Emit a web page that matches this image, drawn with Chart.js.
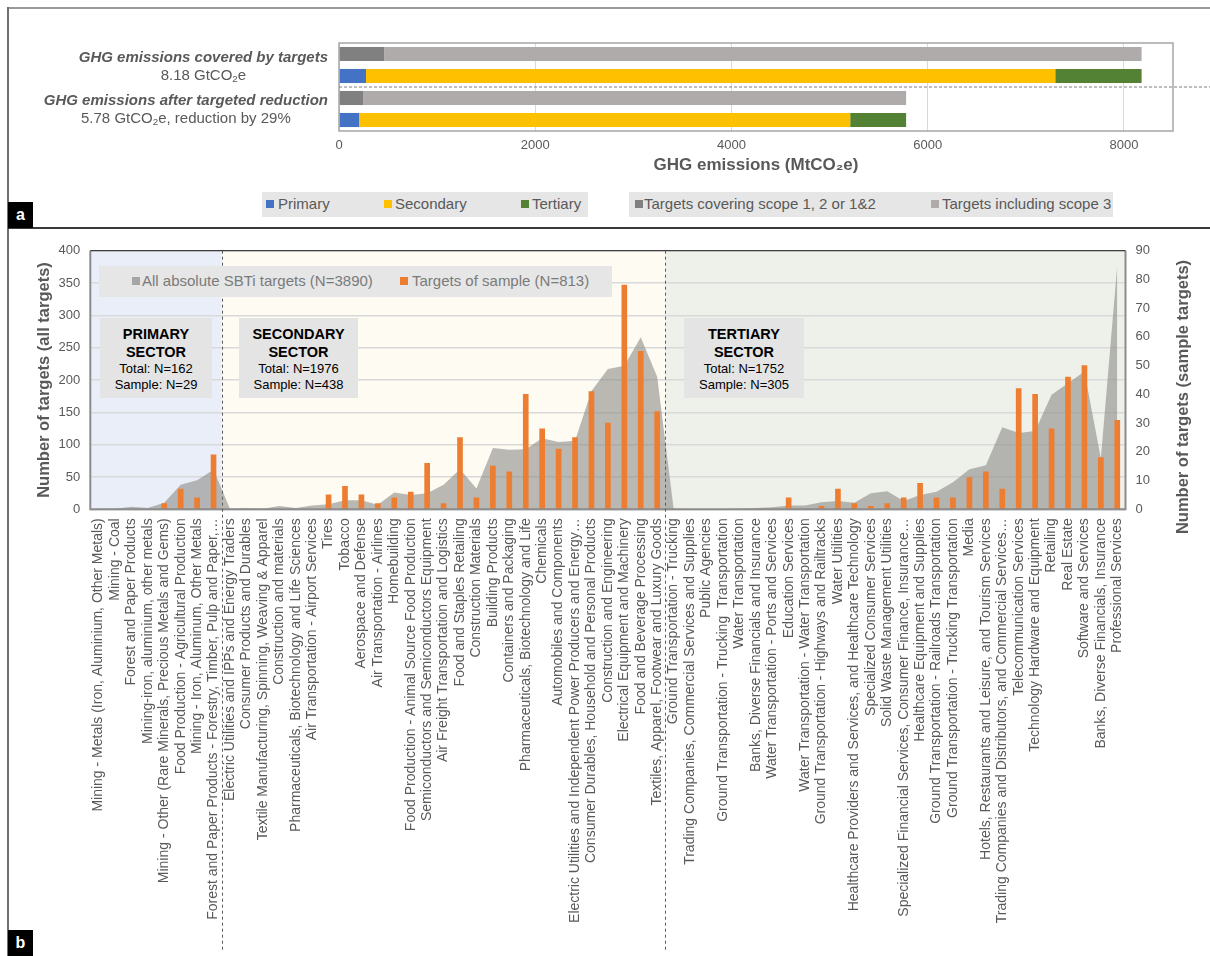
<!DOCTYPE html>
<html>
<head>
<meta charset="utf-8">
<title>SBTi targets</title>
<script src="https://cdn.jsdelivr.net/npm/chart.js@4.4.1/dist/chart.umd.min.js"></script>
<style>
  body { margin: 0; background: #fff; font-family: "Liberation Sans", Arial, sans-serif; }
  #page { position: relative; width: 1210px; height: 956px; overflow: hidden; }
  canvas { position: absolute; left: 0; }
  .line { position: absolute; }
  .tag { position: absolute; width: 25px; height: 26px; background: #000; color: #fff; font-weight: bold; font-size: 16px; text-align: center; line-height: 26px; }
  .rowlabel { position: absolute; right: 882px; color: #595959; font-size: 15px; line-height: 18px; text-align: center; white-space: nowrap; }
  .rowlabel b { font-style: italic; }
  .legend { position: absolute; background: #e6e6e6; color: #595959; font-size: 15px; }
  .legend span { position: absolute; white-space: nowrap; }
  .legend i { position: absolute; width: 8px; height: 8px; }
  .sector { position: absolute; top: 318px; height: 80px; background: #e4e4e4; color: #000; text-align: center; box-sizing: border-box; padding-top: 7px; white-space: nowrap; }
  .sector b { display: block; font-size: 14.5px; line-height: 18px; }
  .sector div { font-size: 13px; line-height: 16px; }
  sub { font-size: 0.65em; vertical-align: -0.25em; }
</style>
</head>
<body>
<div id="page">
  <canvas id="chartA" width="1210" height="229" style="top:0"></canvas>
  <canvas id="chartB" width="1210" height="726" style="top:230px"></canvas>

  <!-- figure frame -->
  <div class="line" style="left:8px;top:7px;width:1202px;height:1.5px;background:#9a9a9a"></div>
  <div class="line" style="left:7px;top:7px;width:2px;height:949px;background:#6f6f6f"></div>
  <div class="line" style="left:8px;top:227px;width:1202px;height:2px;background:#3a3a3a"></div>
  <div class="tag" style="left:8px;top:202px">a</div>
  <div class="tag" style="left:8px;top:930px">b</div>

  <!-- panel a row labels -->
  <div class="rowlabel" style="top:48px"><b>GHG emissions covered by targets</b><br>8.18 GtCO<sub>2</sub>e</div>
  <div class="rowlabel" style="top:91px"><b>GHG emissions after targeted reduction</b><br>5.78 GtCO<sub>2</sub>e, reduction by 29%</div>

  <!-- panel a legends -->
  <div class="legend" style="left:262px;top:192px;width:326px;height:25px">
    <i style="left:4px;top:8px;background:#4472c4"></i><span style="left:16px;top:3px">Primary</span>
    <i style="left:122px;top:8px;background:#ffc000"></i><span style="left:133px;top:3px">Secondary</span>
    <i style="left:259px;top:8px;background:#548235"></i><span style="left:270px;top:3px">Tertiary</span>
  </div>
  <div class="legend" style="left:629px;top:192px;width:484px;height:25px">
    <i style="left:6px;top:8px;background:#808080"></i><span style="left:15px;top:3px">Targets covering scope 1, 2 or 1&amp;2</span>
    <i style="left:302px;top:8px;background:#afabab"></i><span style="left:313px;top:3px">Targets including scope 3</span>
  </div>

  <!-- panel b legend -->
  <div class="legend" style="left:99px;top:266px;width:513px;height:31px;color:#7a7a7a">
    <i style="left:33px;top:11px;background:#a5a5a5"></i><span style="left:43px;top:6px">All absolute SBTi targets (N=3890)</span>
    <i style="left:301px;top:11px;background:#ed7d31"></i><span style="left:313px;top:6px">Targets of sample (N=813)</span>
  </div>

  <!-- sector boxes -->
  <div class="sector" style="left:100px;width:112px"><b>PRIMARY</b><b>SECTOR</b><div>Total: N=162</div><div>Sample: N=29</div></div>
  <div class="sector" style="left:239px;width:119px"><b>SECONDARY</b><b>SECTOR</b><div>Total: N=1976</div><div>Sample: N=438</div></div>
  <div class="sector" style="left:684px;width:120px"><b>TERTIARY</b><b>SECTOR</b><div>Total: N=1752</div><div>Sample: N=305</div></div>
</div>

<script>
// ---------- panel a: emissions covered (MtCO2e) ----------
const rowLabels = ["Covered (scope)", "Covered (sector)", "After reduction (scope)", "After reduction (sector)"];
const sectorNames = ["Primary", "Secondary", "Tertiary"];
const sectorCovered = [275, 7025, 880];
const sectorAfter = [205, 5005, 570];
const scopeNames = ["Targets covering scope 1, 2 or 1&2", "Targets including scope 3"];
const scopeCovered = [460, 7720];
const scopeAfter = [245, 5535];
const emissionTicks = [0, 2000, 4000, 6000, 8000];

// ---------- panel b: targets per industry ----------
const categories = [
  "Mining - Metals (Iron, Aluminium, Other Metals)",
  "Mining - Coal",
  "Forest and Paper Products",
  "Mining-iron, aluminium, other metals",
  "Mining - Other (Rare Minerals, Precious Metals and Gems)",
  "Food Production - Agricultural Production",
  "Mining - Iron, Aluminum, Other Metals",
  "Forest and Paper Products - Forestry, Timber, Pulp and Paper,…",
  "Electric Utilities and IPPs and Energy Traders",
  "Consumer Products and Durables",
  "Textile Manufacturing, Spinning, Weaving & Apparel",
  "Construction and materials",
  "Pharmaceuticals, Biotechnology and Life Sciences",
  "Air Transportation - Airport Services",
  "Tires",
  "Tobacco",
  "Aerospace and Defense",
  "Air Transportation - Airlines",
  "Homebuilding",
  "Food Production - Animal Source Food Production",
  "Semiconductors and Semiconductors Equipment",
  "Air Freight Transportation and Logistics",
  "Food and Staples Retailing",
  "Construction Materials",
  "Building Products",
  "Containers and Packaging",
  "Pharmaceuticals, Biotechnology and Life",
  "Chemicals",
  "Automobiles and Components",
  "Electric Utilities and Independent Power Producers and Energy…",
  "Consumer Durables, Household and Personal Products",
  "Construction and Engineering",
  "Electrical Equipment and Machinery",
  "Food and Beverage Processing",
  "Textiles, Apparel, Footwear and Luxury Goods",
  "Ground Transportation - Trucking",
  "Trading Companies, Commercial Services and Supplies",
  "Public Agencies",
  "Ground Transportation - Trucking  Transportation",
  "Water Transportation",
  "Banks, Diverse Financials and Insurance",
  "Water Transportation - Ports and Services",
  "Education Services",
  "Water Transportation - Water Transportation",
  "Ground Transportation - Highways and Railtracks",
  "Water Utilities",
  "Healthcare Providers and Services, and Healthcare Technology",
  "Specialized Consumer Services",
  "Solid Waste Management Utilities",
  "Specialized Financial Services, Consumer Finance, Insurance…",
  "Healthcare Equipment and Supplies",
  "Ground Transportation - Railroads Transportation",
  "Ground Transportation - Trucking Transportation",
  "Media",
  "Hotels, Restaurants and Leisure, and Tourism Services",
  "Trading Companies and Distributors, and Commercial Services…",
  "Telecommunication Services",
  "Technology Hardware and Equipment",
  "Retailing",
  "Real Estate",
  "Software and Services",
  "Banks, Diverse Financials, Insurance",
  "Professional Services"
];
const allTargets = [
  1, 1, 4, 2, 10, 38, 45, 61,
  1, 2, 1, 5, 2, 6, 8, 14, 14, 7, 26, 22, 25, 38, 62, 32, 95, 92, 93, 110, 104, 106, 183, 217, 222, 266, 205,
  1, 0, 0, 0, 1, 2, 3, 6, 6, 11, 13, 10, 25, 28, 13, 22, 27, 42, 62, 68, 127, 118, 121, 177, 195, 213, 79, 378
];
const sampleTargets = [
  0, 0, 0, 0, 2, 7, 4, 19,
  0, 0, 0, 0, 0, 0, 5, 8, 5, 2, 4, 6, 16, 2, 25, 4, 15, 13, 40, 28, 21, 25, 41, 30, 78, 55, 34,
  0, 0, 0, 0, 0, 0, 0, 4, 0, 1, 7, 2, 1, 2, 4, 9, 4, 4, 11, 13, 7, 42, 40, 28, 46, 50, 18, 31
];
// number of categories in primary, secondary, tertiary (in order)
const sectorSizes = [8, 27, 28];

Chart.defaults.font.family = '"Liberation Sans", Arial, sans-serif';
Chart.defaults.color = "#595959";

const sectorColors = ["#4472c4", "#ffc000", "#548235"];
const scopeColors = ["#808080", "#afabab"];

const frameA = {
  id: "frameA",
  afterDraw(chart) {
    const { ctx, chartArea: a, scales: { y } } = chart;
    ctx.save();
    ctx.strokeStyle = "#a6a6a6";
    ctx.lineWidth = 1.5;
    ctx.strokeRect(a.left, a.top, a.right - a.left, a.bottom - a.top);
    // dashed split between the two pairs of bars
    const yy = y.getPixelForValue(1.5);
    ctx.strokeStyle = "#7f7f7f";
    ctx.lineWidth = 1;
    ctx.setLineDash([3, 2]);
    ctx.beginPath();
    ctx.moveTo(a.left, yy);
    ctx.lineTo(chart.width, yy);
    ctx.stroke();
    ctx.restore();
  }
};

new Chart(document.getElementById("chartA"), {
  type: "bar",
  data: {
    labels: rowLabels,
    datasets: [
      ...scopeNames.map((name, i) => ({
        label: name,
        data: [scopeCovered[i], null, scopeAfter[i], null],
        backgroundColor: scopeColors[i]
      })),
      ...sectorNames.map((name, i) => ({
        label: name,
        data: [null, sectorCovered[i], null, sectorAfter[i]],
        backgroundColor: sectorColors[i]
      }))
    ]
  },
  options: {
    responsive: false,
    animation: false,
    indexAxis: "y",
    layout: { padding: { left: 339, right: 37, top: 43, bottom: 53 } },
    datasets: { bar: { barPercentage: 0.64, categoryPercentage: 1 } },
    plugins: { legend: { display: false }, tooltip: { enabled: false } },
    scales: {
      x: {
        stacked: true,
        min: 0,
        max: 8500,
        afterBuildTicks: (axis) => {
          axis.ticks = emissionTicks.map((v) => ({ value: v }));
        },
        afterFit: (scale) => {
          scale.height = 45;
        },
        grid: { color: "#d9d9d9", drawTicks: false },
        border: { display: false },
        ticks: {
          color: "#595959",
          font: { size: 13 },
          padding: 7,
          callback: (value) => String(value)
        },
        title: {
          display: true,
          text: "GHG emissions (MtCO₂e)",
          color: "#595959",
          font: { size: 17, weight: "bold" },
          padding: 0
        }
      },
      y: { stacked: true, display: false }
    }
  },
  plugins: [frameA]
});

const sectorFills = ["#e9eef8", "#fefbf3", "#eef0ea"];

const sectorPlugin = {
  id: "sectors",
  beforeDraw(chart) {
    const { ctx, chartArea: a, scales: { x } } = chart;
    let start = a.left;
    let count = 0;
    sectorSizes.forEach((size, i) => {
      count += size;
      const stop = i === sectorSizes.length - 1 ? a.right : x.getPixelForValue(count - 0.5);
      ctx.fillStyle = sectorFills[i];
      ctx.fillRect(start, a.top, stop - start, a.bottom - a.top);
      start = stop;
    });
  },
  afterDraw(chart) {
    const { ctx, chartArea: a, scales: { x } } = chart;
    ctx.save();
    // plot frame
    ctx.strokeStyle = "#8c8c8c";
    ctx.lineWidth = 2;
    ctx.beginPath();
    ctx.moveTo(a.left, a.top);
    ctx.lineTo(a.left, a.bottom);
    ctx.lineTo(a.right, a.bottom);
    ctx.lineTo(a.right, a.top);
    ctx.stroke();
    ctx.strokeStyle = "#404040";
    ctx.lineWidth = 1.2;
    ctx.beginPath();
    ctx.moveTo(a.left, a.top);
    ctx.lineTo(a.right, a.top);
    ctx.stroke();

    // dashed sector splits, running down through the labels
    ctx.strokeStyle = "#595959";
    ctx.lineWidth = 1;
    ctx.setLineDash([3, 3]);
    let count = 0;
    sectorSizes.slice(0, -1).forEach((size) => {
      count += size;
      const px = Math.round(x.getPixelForValue(count - 0.5)) + 0.5;
      ctx.beginPath();
      ctx.moveTo(px, a.top);
      ctx.lineTo(px, 720);
      ctx.stroke();
    });
    ctx.setLineDash([]);

    // right axis title, reading bottom to top
    ctx.translate(1183, 167);
    ctx.rotate(-Math.PI / 2);
    ctx.fillStyle = "#595959";
    ctx.font = 'bold 16.5px "Liberation Sans", Arial, sans-serif';
    ctx.textAlign = "center";
    ctx.textBaseline = "middle";
    ctx.fillText("Number of targets (sample targets)", 0, 0);
    ctx.restore();
  }
};

new Chart(document.getElementById("chartB"), {
  type: "bar",
  data: {
    labels: categories,
    datasets: [
      {
        type: "line",
        label: "All absolute SBTi targets (N=3890)",
        data: allTargets,
        yAxisID: "y",
        fill: "origin",
        backgroundColor: "rgba(140, 140, 135, 0.6)",
        borderColor: "rgba(0, 0, 0, 0)",
        borderWidth: 0,
        pointRadius: 0,
        tension: 0,
        order: 2
      },
      {
        type: "bar",
        label: "Targets of sample (N=813)",
        data: sampleTargets,
        yAxisID: "y1",
        backgroundColor: "#ed7d31",
        barThickness: 5,
        order: 1
      }
    ]
  },
  options: {
    responsive: false,
    animation: false,
    layout: { padding: { top: 20.7, left: 0, right: 0, bottom: 0 } },
    plugins: { legend: { display: false }, tooltip: { enabled: false } },
    scales: {
      x: {
        grid: { display: false, drawTicks: false },
        border: { display: false },
        ticks: {
          autoSkip: false,
          minRotation: 90,
          maxRotation: 90,
          padding: 9,
          color: "#595959",
          font: { size: 14 }
        },
        afterFit: (scale) => {
          scale.height = 446.7;
        }
      },
      y: {
        position: "left",
        min: 0,
        max: 400,
        ticks: { stepSize: 50, padding: 10, color: "#595959", font: { size: 13 } },
        grid: { color: "#d9d9d9", lineWidth: 1.5, drawTicks: false },
        border: { display: false },
        title: {
          display: true,
          text: "Number of targets (all targets)",
          color: "#595959",
          font: { size: 16.5, weight: "bold" },
          padding: { top: 35 }
        },
        afterFit: (scale) => {
          scale.width = 90.3;
        }
      },
      y1: {
        position: "right",
        min: 0,
        max: 90,
        ticks: { stepSize: 10, padding: 10, color: "#595959", font: { size: 13 } },
        grid: { display: false, drawTicks: false },
        border: { display: false },
        afterFit: (scale) => {
          scale.width = 84.5;
        }
      }
    }
  },
  plugins: [sectorPlugin]
});
</script>
</body>
</html>
